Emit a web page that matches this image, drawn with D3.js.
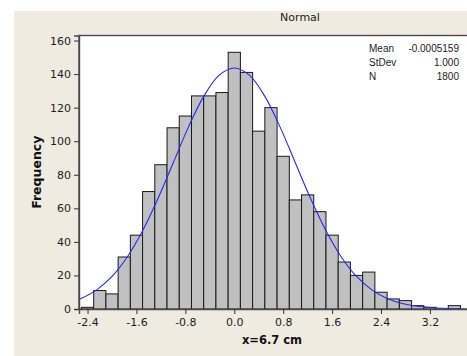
<!DOCTYPE html>
<html lang="en">
<head>
<meta charset="UTF-8">
<title>Normal histogram</title>
<script src="https://d3js.org/d3.v7.min.js"></script>
<style>
    body { margin: 0; background: #fff; }
    svg { display: block; }
    .tick text { font-family: "DejaVu Sans", sans-serif; font-size: 11px; fill: #1e1e1e; }
    .stats { font-family: "Liberation Sans", Arial, sans-serif; font-size: 10px; fill: #222; }
</style>
</head>
<body>
<div id="chart"></div>
<script>
    // bin centres (width 0.2) and counts
    const binMids = [-2.4, -2.2, -2.0, -1.8, -1.6, -1.4, -1.2, -1.0, -0.8, -0.6, -0.4, -0.2,
                     0.0, 0.2, 0.4, 0.6, 0.8, 1.0, 1.2, 1.4, 1.6, 1.8, 2.0, 2.2,
                     2.4, 2.6, 2.8, 3.0, 3.2, 3.4, 3.6];
    const counts = [1, 11, 9, 31, 44, 70, 86, 108, 115, 127, 127, 129,
                    153, 141, 106, 120, 91, 65, 68, 58, 44, 28, 20, 22,
                    10, 6, 5, 2, 1, 0, 2];

    // fitted normal curve
    const curveX = [-2.54, -2.25, -2.0, -1.75, -1.5, -1.25, -1.0, -0.75, -0.5, -0.25, 0.0,
                    0.25, 0.5, 0.75, 1.0, 1.25, 1.5, 1.75, 2.0, 2.25, 2.5, 2.75, 3.0, 3.25, 3.5, 3.7];
    const curveY = [5.6, 11.4, 19.4, 31, 46.6, 65.7, 87, 108.4, 126.7, 139.2, 143.6,
                    139.2, 126.7, 108.4, 87, 65.7, 46.6, 31, 19.4, 11.4, 6.3, 3.3, 1.6, 0.7, 0.3, 0.15];

    const xTicks = [-2.4, -1.6, -0.8, 0.0, 0.8, 1.6, 2.4, 3.2];
    const yTicks = [0, 20, 40, 60, 80, 100, 120, 140, 160];

    const statLabels = ["Mean", "StDev", "N"];
    const statValues = ["-0.0005159", "1.000", "1800"];

    const binWidth = 0.2;
    const W = 467, H = 356;
    const plot = {left: 79, top: 35.5, right: 521, bottom: 309};

    const svg = d3.select("#chart").append("svg")
        .attr("width", W)
        .attr("height", H);

    // beige panel
    svg.append("rect")
        .attr("x", 14).attr("y", 11)
        .attr("width", W - 14).attr("height", H - 11)
        .attr("fill", "#efebe1");

    const x = d3.scaleLinear()
        .domain([-2.54, 4.69])
        .range([plot.left, plot.right]);

    const y = d3.scaleLinear()
        .domain([0, 163])
        .range([plot.bottom, plot.top]);

    // white plotting area
    svg.append("rect")
        .attr("x", plot.left).attr("y", plot.top)
        .attr("width", plot.right - plot.left)
        .attr("height", plot.bottom - plot.top)
        .attr("fill", "#fff")
        .attr("stroke", "#4a4a4a")
        .attr("stroke-width", 1.4);

    const bins = binMids.map((m, i) => ({mid: m, n: counts[i]}));

    svg.append("g")
        .selectAll("rect")
        .data(bins.filter(d => d.n > 0))
        .join("rect")
        .attr("x", d => x(d.mid - binWidth / 2))
        .attr("width", d => x(d.mid + binWidth / 2) - x(d.mid - binWidth / 2))
        .attr("y", d => y(d.n))
        .attr("height", d => y(0) - y(d.n))
        .attr("fill", "#c0c0c0")
        .attr("stroke", "#1a1a1a")
        .attr("stroke-width", 1);

    const fit = curveX.map((v, i) => [v, curveY[i]]);

    svg.append("path")
        .datum(fit)
        .attr("fill", "none")
        .attr("stroke", "#2626ff")
        .attr("stroke-width", 1.1)
        .attr("d", d3.line()
            .x(d => x(d[0]))
            .y(d => y(d[1]))
            .curve(d3.curveCatmullRom));

    // axes - minitab uses a plain hyphen for negatives
    const fmt = d => d3.format(".1f")(d).replace("\u2212", "-");

    const xAxis = svg.append("g")
        .attr("transform", `translate(0,${plot.bottom})`)
        .call(d3.axisBottom(x).tickValues(xTicks).tickFormat(fmt).tickSize(5).tickPadding(4));

    const yAxis = svg.append("g")
        .attr("transform", `translate(${plot.left},0)`)
        .call(d3.axisLeft(y).tickValues(yTicks).tickSize(5).tickPadding(3));

    [xAxis, yAxis].forEach(g => {
        g.select(".domain").attr("stroke", "#4a4a4a").attr("stroke-width", 1.4);
        g.selectAll(".tick line").attr("stroke", "#333");
    });

    // titles
    svg.append("text")
        .attr("x", 300).attr("y", 21)
        .attr("text-anchor", "middle")
        .style("font-family", "DejaVu Sans, sans-serif")
        .style("font-size", "11px")
        .attr("fill", "#222")
        .text("Normal");

    svg.append("text")
        .attr("x", 272).attr("y", 344)
        .attr("text-anchor", "middle")
        .style("font-family", "DejaVu Sans, sans-serif")
        .style("font-size", "11.5px")
        .style("font-weight", "bold")
        .attr("fill", "#111")
        .text("x=6.7 cm");

    svg.append("text")
        .attr("transform", `translate(41,${(plot.top + plot.bottom) / 2}) rotate(-90)`)
        .attr("text-anchor", "middle")
        .style("font-family", "DejaVu Sans, sans-serif")
        .style("font-size", "12.5px")
        .style("font-weight", "bold")
        .attr("fill", "#111")
        .text("Frequency");

    // stats box
    const stats = svg.append("g").attr("class", "stats");
    statLabels.forEach((lab, i) => {
        stats.append("text")
            .attr("x", 369).attr("y", 52 + i * 14)
            .text(lab);
        stats.append("text")
            .attr("x", 459).attr("y", 52 + i * 14)
            .attr("text-anchor", "end")
            .text(statValues[i]);
    });
</script>
</body>
</html>
